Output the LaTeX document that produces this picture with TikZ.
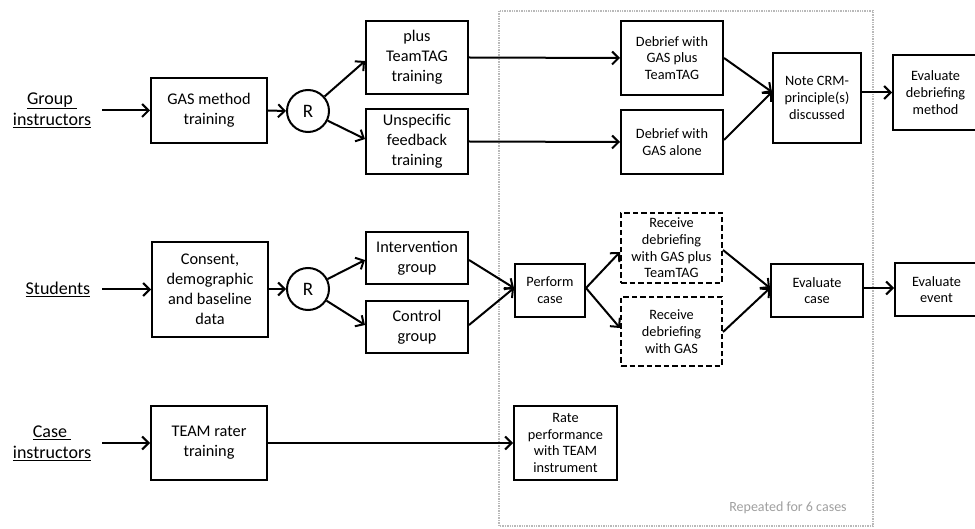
\documentclass[tikz,border=0pt]{standalone}
\usepackage{fontspec}
\setmainfont{Carlito}
\usetikzlibrary{arrows.meta}
\begin{document}
\begin{tikzpicture}[x=1pt,y=-1pt,
  box/.style={draw, line width=2pt, align=center, inner sep=0pt, font=\fontsize{16.3}{20}\selectfont},
  sbox/.style={box, font=\fontsize{14.3}{16.7}\selectfont},
  dbox/.style={sbox, dash pattern=on 5.5pt off 3pt},
  rnode/.style={draw, circle, line width=2pt, minimum size=42pt, inner sep=0pt, font=\fontsize{19}{22}\selectfont},
  lbl/.style={align=center, inner sep=0pt, font=\fontsize{18}{21}\selectfont},
  arr/.style={line width=2pt, -{Straight Barb[length=6.5pt,width=13pt]}},
  reparea/.style={draw=gray!55, line width=1.4pt, densely dotted}
]
\useasboundingbox (0,0) rectangle (975,529);
\clip (0,0) rectangle (975,529);
% repeated area
\draw[reparea] (499,11) rectangle (873,526);
\node[text=gray!75, font=\fontsize{14}{16}\selectfont] (rep) at (788,508) {Repeated for 6 cases};

% row labels
\node[lbl] (lblG) at (52,110) {\underline{Group~}\\\underline{instructors}};
\node[lbl] (lblS) at (58,289) {\underline{Students}};
\node[lbl] (lblC) at (52,443) {\underline{Case~}\\\underline{instructors}};

% group instructors row
\node[box, minimum width=116pt, minimum height=65pt] (gas) at (209,110.5) {GAS method\\training};
\node[rnode] (r1) at (308,111) {R};
\node[box, minimum width=102pt, minimum height=73pt] (ptt) at (417,57.5) {plus\\TeamTAG\\training};
\node[box, minimum width=102pt, minimum height=65pt] (unsp) at (417,141.5) {Unspecific\\feedback\\training};
\node[sbox, minimum width=102pt, minimum height=74pt] (dbt) at (672,58) {Debrief with\\GAS plus\\TeamTAG};
\node[sbox, minimum width=102pt, minimum height=64pt] (dba) at (672,142) {Debrief with\\GAS alone};
\node[sbox, minimum width=88pt, minimum height=90pt] (crm) at (817,98) {Note CRM-\\principle(s)\\discussed};
\node[sbox, minimum width=85pt, minimum height=75pt] (evd) at (935.5,92.5) {Evaluate\\debriefing\\method};

% students row
\node[box, minimum width=116pt, minimum height=95pt] (cons) at (210,289.5) {Consent,\\demographic\\and baseline\\data};
\node[rnode] (r2) at (308,289) {R};
\node[box, minimum width=102pt, minimum height=52pt] (int) at (417,258) {Intervention\\group};
\node[box, minimum width=102pt, minimum height=52pt] (ctl) at (417,327) {Control\\group};
\node[sbox, minimum width=70pt, minimum height=53pt] (perf) at (550,290.5) {Perform\\case};
\node[dbox, minimum width=101pt, minimum height=70pt] (rcv1) at (671.5,248) {Receive\\debriefing\\with GAS plus\\TeamTAG};
\node[dbox, minimum width=101pt, minimum height=69pt] (rcv2) at (671.5,331.5) {Receive\\debriefing\\with GAS};
\node[sbox, minimum width=92pt, minimum height=53pt] (evc) at (817,290.5) {Evaluate\\case};
\node[sbox, minimum width=83pt, minimum height=53pt] (eve) at (936.5,289.5) {Evaluate\\event};

% case instructors row
\node[box, minimum width=116pt, minimum height=74pt] (team) at (209,443) {TEAM rater\\training};
\node[sbox, minimum width=103pt, minimum height=74pt] (rate) at (565.5,443) {Rate\\performance\\with TEAM\\instrument};

% connectors
\draw[arr, shorten <=11pt] (lblG.east |- gas.west) -- (gas.west);
\draw[arr, shorten <=12pt] (lblS.east |- cons.west) -- (cons.west);
\draw[arr, shorten <=11pt] (lblC.east |- team.west) -- (team.west);

\draw[arr] (gas.east) -- (r1.west);
\draw[arr] (r1) -- ([yshift=-3.5pt]ptt.west);
\draw[arr] (r1) -- ([yshift=2.5pt]unsp.west);
\draw[arr] (ptt.east) -- (dbt.west);
\draw[arr] (unsp.east) -- (dba.west);
\draw[arr] (dbt.east) -- ([yshift=6pt]crm.west);
\draw[arr] ([yshift=2pt]dba.east) -- ([yshift=6pt]crm.west);
\draw[arr] (crm.east |- evd.west) -- (evd.west);

\draw[arr] (cons.east |- r2.west) -- (r2.west);
\draw[arr] (r2) -- ([yshift=-2pt]int.west);
\draw[arr] (r2) -- ([yshift=2pt]ctl.west);
\draw[arr] ([yshift=-2pt]int.east) -- ([yshift=2.5pt]perf.west);
\draw[arr] ([yshift=2pt]ctl.east) -- ([yshift=2.5pt]perf.west);
\draw[arr] ([yshift=2.5pt]perf.east) -- ([yshift=-4pt]rcv1.west);
\draw[arr] ([yshift=2.5pt]perf.east) -- ([yshift=3.5pt]rcv2.west);
\draw[arr] ([yshift=-2pt]rcv1.east) -- ([yshift=2.5pt]evc.west);
\draw[arr] ([yshift=-0.5pt]rcv2.east) -- ([yshift=2.5pt]evc.west);
\draw[arr] ([yshift=2.5pt]evc.east) -- ([yshift=2.5pt]evc.east -| eve.west);

\draw[arr] (team.east) -- (rate.west);
\end{tikzpicture}
\end{document}
